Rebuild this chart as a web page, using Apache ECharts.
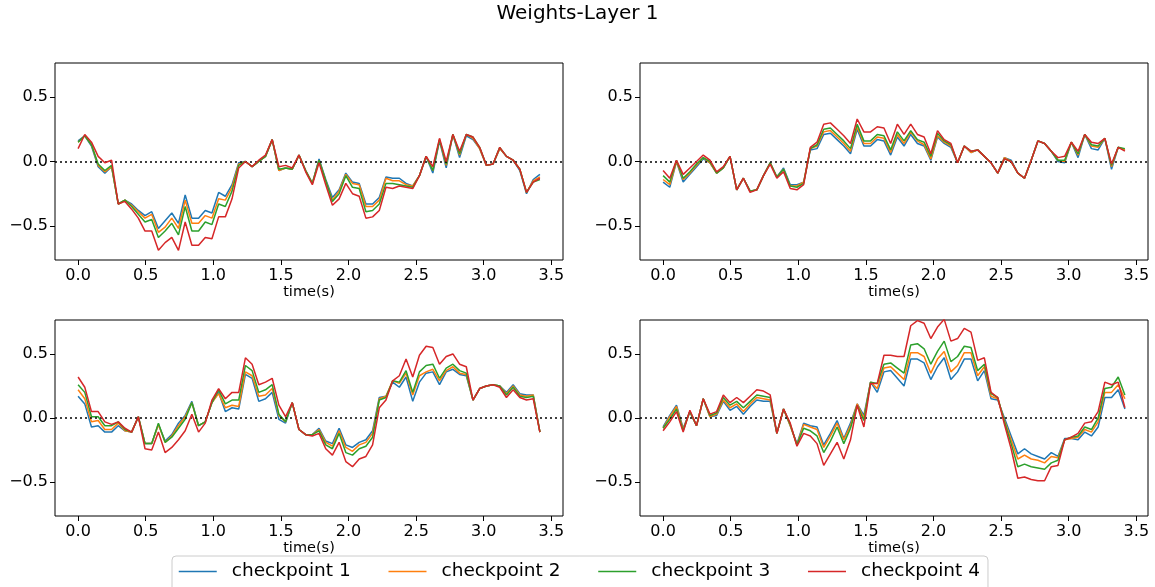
<!DOCTYPE html>
<html>
<head>
<meta charset="utf-8">
<title>Weights-Layer 1</title>
<script src="https://cdn.jsdelivr.net/npm/echarts@6/dist/echarts.min.js"></script>
<style>
  html, body { margin: 0; padding: 0; background: #ffffff; }
  #chart { width: 1155px; height: 587px; }
</style>
</head>
<body>
<div id="chart"></div>
<script>
// Sampling step of the time axis (seconds) and axis ticks
const STEP = 0.0495;
const X_TICKS = [0, 0.5, 1.0, 1.5, 2.0, 2.5, 3.0, 3.5];
const Y_TICKS = [-0.5, 0, 0.5];
const CHECKPOINTS = ['checkpoint 1', 'checkpoint 2', 'checkpoint 3', 'checkpoint 4'];
const COLORS = ['#1f77b4', '#ff7f0e', '#2ca02c', '#d62728'];

// Weight 1 (top left)
const w1_ck1 = [0.16,0.20,0.12,-0.04,-0.09,-0.04,-0.33,-0.30,-0.33,-0.38,-0.42,-0.39,-0.52,-0.46,-0.40,-0.48,-0.26,-0.44,-0.44,-0.38,-0.40,-0.24,-0.27,-0.18,-0.01,0.00,-0.04,0.00,0.04,0.17,-0.07,-0.05,-0.06,0.05,-0.07,-0.17,0.02,-0.14,-0.28,-0.22,-0.09,-0.16,-0.17,-0.33,-0.33,-0.28,-0.12,-0.13,-0.13,-0.17,-0.19,-0.11,0.04,-0.09,0.16,-0.05,0.21,0.03,0.20,0.17,0.10,-0.03,-0.02,0.10,0.04,0.01,-0.07,-0.25,-0.14,-0.10];
const w1_ck2 = [0.15,0.20,0.13,-0.03,-0.08,-0.04,-0.33,-0.30,-0.34,-0.39,-0.44,-0.41,-0.55,-0.51,-0.44,-0.52,-0.30,-0.48,-0.48,-0.42,-0.44,-0.29,-0.30,-0.20,-0.02,0.00,-0.04,0.00,0.04,0.17,-0.07,-0.05,-0.06,0.05,-0.07,-0.17,0.01,-0.15,-0.30,-0.23,-0.10,-0.17,-0.18,-0.35,-0.35,-0.30,-0.13,-0.15,-0.15,-0.18,-0.19,-0.11,0.04,-0.07,0.17,-0.03,0.21,0.05,0.21,0.18,0.10,-0.03,-0.02,0.10,0.04,0.01,-0.06,-0.24,-0.15,-0.12];
const w1_ck3 = [0.15,0.20,0.13,-0.02,-0.07,-0.03,-0.33,-0.30,-0.35,-0.41,-0.47,-0.45,-0.59,-0.54,-0.48,-0.57,-0.35,-0.54,-0.54,-0.47,-0.49,-0.33,-0.35,-0.23,-0.03,0.00,-0.04,0.00,0.04,0.17,-0.06,-0.05,-0.06,0.05,-0.07,-0.17,0.01,-0.15,-0.31,-0.25,-0.11,-0.20,-0.21,-0.39,-0.38,-0.33,-0.17,-0.17,-0.18,-0.19,-0.20,-0.11,0.04,-0.07,0.17,-0.02,0.21,0.06,0.21,0.19,0.11,-0.03,-0.02,0.11,0.04,0.01,-0.06,-0.24,-0.16,-0.14];
const w1_ck4 = [0.10,0.21,0.15,0.04,-0.01,0.01,-0.33,-0.31,-0.37,-0.44,-0.54,-0.54,-0.69,-0.63,-0.59,-0.69,-0.47,-0.65,-0.65,-0.59,-0.60,-0.43,-0.43,-0.29,-0.05,0.00,-0.04,0.01,0.05,0.17,-0.04,-0.03,-0.05,0.05,-0.08,-0.18,-0.01,-0.18,-0.34,-0.29,-0.17,-0.25,-0.27,-0.44,-0.43,-0.38,-0.20,-0.21,-0.19,-0.20,-0.21,-0.11,0.04,-0.04,0.18,0.00,0.21,0.08,0.21,0.19,0.11,-0.03,-0.02,0.11,0.04,0.01,-0.06,-0.24,-0.16,-0.13];

// Weight 2 (top right)
const w2_ck1 = [-0.16,-0.20,0.00,-0.16,-0.10,-0.04,0.02,-0.01,-0.09,-0.05,0.04,-0.22,-0.13,-0.23,-0.22,-0.11,-0.01,-0.12,-0.05,-0.18,-0.18,-0.16,0.09,0.10,0.21,0.22,0.17,0.12,0.06,0.25,0.12,0.12,0.17,0.16,0.05,0.19,0.12,0.21,0.14,0.12,0.01,0.19,0.14,0.11,-0.01,0.12,0.07,0.09,0.04,-0.01,-0.09,0.03,0.01,-0.09,-0.13,0.01,0.16,0.14,0.08,0.00,-0.01,0.15,0.03,0.21,0.10,0.09,0.18,-0.06,0.11,0.09];
const w2_ck2 = [-0.14,-0.18,0.00,-0.14,-0.09,-0.03,0.03,-0.01,-0.09,-0.05,0.04,-0.22,-0.13,-0.23,-0.22,-0.11,-0.01,-0.12,-0.06,-0.19,-0.19,-0.16,0.10,0.12,0.23,0.24,0.19,0.14,0.08,0.27,0.14,0.14,0.19,0.18,0.07,0.21,0.14,0.23,0.16,0.13,0.02,0.20,0.15,0.12,-0.01,0.12,0.07,0.09,0.04,-0.01,-0.09,0.03,0.00,-0.09,-0.13,0.01,0.16,0.14,0.08,0.01,0.00,0.15,0.05,0.21,0.12,0.11,0.18,-0.04,0.11,0.09];
const w2_ck3 = [-0.11,-0.16,0.01,-0.13,-0.08,-0.02,0.03,0.00,-0.09,-0.05,0.04,-0.22,-0.13,-0.23,-0.22,-0.11,-0.01,-0.12,-0.06,-0.19,-0.20,-0.17,0.10,0.13,0.25,0.26,0.21,0.16,0.10,0.29,0.16,0.16,0.21,0.20,0.09,0.23,0.16,0.24,0.17,0.15,0.04,0.22,0.16,0.13,-0.01,0.12,0.08,0.09,0.04,-0.01,-0.09,0.02,0.00,-0.09,-0.13,0.01,0.16,0.14,0.08,0.01,0.01,0.15,0.06,0.21,0.13,0.12,0.18,-0.03,0.11,0.10];
const w2_ck4 = [-0.07,-0.13,0.01,-0.10,-0.05,0.00,0.05,0.01,-0.08,-0.04,0.04,-0.22,-0.13,-0.24,-0.22,-0.11,-0.02,-0.13,-0.08,-0.21,-0.22,-0.18,0.11,0.15,0.29,0.30,0.25,0.20,0.14,0.33,0.23,0.23,0.27,0.26,0.14,0.29,0.21,0.29,0.21,0.19,0.06,0.24,0.17,0.14,-0.01,0.12,0.08,0.09,0.04,-0.01,-0.09,0.02,0.00,-0.09,-0.13,0.01,0.16,0.14,0.08,0.03,0.04,0.15,0.08,0.21,0.15,0.14,0.18,-0.02,0.11,0.08];

// Weight 3 (bottom left)
const w3_ck1 = [0.17,0.11,-0.07,-0.06,-0.11,-0.11,-0.06,-0.10,-0.11,0.01,-0.20,-0.20,-0.05,-0.18,-0.13,-0.04,0.02,0.13,-0.06,-0.03,0.12,0.20,0.05,0.08,0.07,0.34,0.31,0.13,0.15,0.20,-0.01,-0.04,0.12,-0.09,-0.13,-0.13,-0.08,-0.18,-0.20,-0.08,-0.21,-0.23,-0.19,-0.17,-0.10,0.16,0.17,0.28,0.24,0.32,0.13,0.28,0.35,0.36,0.26,0.36,0.38,0.34,0.33,0.14,0.23,0.25,0.26,0.25,0.20,0.26,0.19,0.18,0.18,-0.11];
const w3_ck2 = [0.22,0.15,-0.03,-0.02,-0.09,-0.09,-0.04,-0.10,-0.11,0.01,-0.20,-0.20,-0.05,-0.19,-0.14,-0.06,0.01,0.12,-0.06,-0.03,0.12,0.19,0.08,0.10,0.09,0.36,0.33,0.17,0.18,0.23,0.02,-0.03,0.12,-0.09,-0.13,-0.13,-0.09,-0.19,-0.22,-0.10,-0.23,-0.26,-0.21,-0.19,-0.12,0.15,0.17,0.29,0.27,0.35,0.18,0.33,0.36,0.38,0.29,0.37,0.40,0.35,0.34,0.14,0.23,0.25,0.26,0.25,0.19,0.25,0.18,0.17,0.18,-0.11];
const w3_ck3 = [0.26,0.20,0.01,0.01,-0.06,-0.06,-0.03,-0.09,-0.11,0.01,-0.20,-0.20,-0.04,-0.19,-0.15,-0.08,-0.01,0.12,-0.06,-0.03,0.12,0.22,0.11,0.14,0.14,0.41,0.37,0.20,0.22,0.26,0.03,-0.03,0.12,-0.09,-0.13,-0.13,-0.10,-0.21,-0.24,-0.12,-0.27,-0.29,-0.24,-0.22,-0.15,0.14,0.16,0.29,0.28,0.37,0.20,0.36,0.41,0.42,0.31,0.39,0.42,0.37,0.35,0.14,0.23,0.25,0.26,0.25,0.18,0.24,0.17,0.16,0.17,-0.11];
const w3_ck4 = [0.32,0.24,0.05,0.05,-0.03,-0.05,-0.03,-0.08,-0.11,0.01,-0.24,-0.25,-0.11,-0.27,-0.23,-0.17,-0.10,0.03,-0.11,-0.04,0.14,0.23,0.15,0.20,0.20,0.47,0.42,0.26,0.28,0.31,0.10,0.01,0.12,-0.09,-0.13,-0.14,-0.12,-0.24,-0.29,-0.19,-0.34,-0.38,-0.32,-0.30,-0.21,0.08,0.14,0.29,0.33,0.46,0.32,0.49,0.56,0.55,0.42,0.48,0.50,0.42,0.40,0.14,0.23,0.25,0.26,0.24,0.16,0.22,0.16,0.14,0.15,-0.11];

// Weight 4 (bottom right)
const w4_ck1 = [-0.07,0.02,0.10,-0.08,0.05,-0.06,0.15,0.01,0.02,0.13,0.06,0.09,0.03,0.09,0.14,0.13,0.13,-0.12,0.07,-0.06,-0.20,-0.04,-0.06,-0.07,-0.21,-0.12,-0.02,-0.16,-0.04,0.11,0.02,0.28,0.20,0.36,0.37,0.31,0.25,0.46,0.46,0.43,0.30,0.40,0.47,0.30,0.36,0.46,0.46,0.29,0.37,0.15,0.14,0.00,-0.14,-0.28,-0.24,-0.28,-0.30,-0.32,-0.27,-0.30,-0.16,-0.16,-0.17,-0.11,-0.14,-0.07,0.16,0.16,0.22,0.07];
const w4_ck2 = [-0.08,0.01,0.09,-0.09,0.05,-0.06,0.15,0.01,0.03,0.14,0.08,0.11,0.05,0.11,0.16,0.15,0.14,-0.12,0.07,-0.06,-0.21,-0.05,-0.07,-0.09,-0.23,-0.14,-0.04,-0.17,-0.06,0.11,0.00,0.28,0.23,0.39,0.40,0.35,0.30,0.51,0.51,0.48,0.35,0.46,0.52,0.36,0.41,0.51,0.51,0.33,0.40,0.17,0.15,-0.02,-0.17,-0.32,-0.29,-0.32,-0.33,-0.35,-0.30,-0.31,-0.17,-0.16,-0.15,-0.09,-0.11,-0.03,0.20,0.20,0.26,0.15];
const w4_ck3 = [-0.08,-0.01,0.07,-0.10,0.05,-0.06,0.15,0.02,0.04,0.16,0.10,0.13,0.08,0.13,0.18,0.17,0.16,-0.12,0.07,-0.05,-0.21,-0.08,-0.10,-0.14,-0.27,-0.18,-0.07,-0.20,-0.08,0.10,-0.02,0.28,0.27,0.42,0.43,0.39,0.35,0.57,0.58,0.54,0.42,0.52,0.60,0.44,0.48,0.56,0.55,0.37,0.42,0.19,0.16,-0.03,-0.20,-0.38,-0.36,-0.38,-0.39,-0.40,-0.35,-0.33,-0.17,-0.15,-0.14,-0.07,-0.09,0.00,0.23,0.24,0.32,0.18];
const w4_ck4 = [-0.10,-0.03,0.05,-0.11,0.06,-0.06,0.15,0.03,0.05,0.18,0.12,0.16,0.12,0.17,0.22,0.21,0.18,-0.12,0.07,-0.04,-0.22,-0.12,-0.14,-0.20,-0.37,-0.28,-0.19,-0.32,-0.17,0.10,-0.07,0.27,0.27,0.49,0.49,0.48,0.48,0.72,0.76,0.74,0.62,0.71,0.77,0.60,0.62,0.70,0.67,0.45,0.47,0.20,0.16,-0.05,-0.24,-0.47,-0.46,-0.48,-0.49,-0.49,-0.38,-0.37,-0.17,-0.15,-0.12,-0.04,-0.03,0.05,0.28,0.26,0.28,0.08];

const PANELS = [
  [w1_ck1, w1_ck2, w1_ck3, w1_ck4],
  [w2_ck1, w2_ck2, w2_ck3, w2_ck4],
  [w3_ck1, w3_ck2, w3_ck3, w3_ck4],
  [w4_ck1, w4_ck2, w4_ck3, w4_ck4]
];

// Axis limits: 5% padding around the time span, symmetric weight range
const T_MAX = (w1_ck1.length - 1) * STEP;
const X_MIN = -0.05 * T_MAX;
const X_MAX = 1.05 * T_MAX;
const Y_LIM = 0.765;

const FONT = 'DejaVu Sans';
const GRIDS = [
  { left: 55,  top: 63,  width: 508, height: 197 },
  { left: 640, top: 63,  width: 508, height: 197 },
  { left: 55,  top: 320, width: 508, height: 196 },
  { left: 640, top: 320, width: 508, height: 196 }
];

const fmtY = v => (v < 0 ? '\u2212' : '') + Math.abs(v).toFixed(1);

const option = {
  animation: false,
  backgroundColor: '#ffffff',
  title: {
    text: 'Weights-Layer 1',
    left: 'center',
    top: 4,
    padding: 0,
    textStyle: { fontFamily: FONT, fontSize: 20, fontWeight: 'normal', color: '#000' }
  },
  legend: {
    data: CHECKPOINTS,
    left: 172,
    top: 556,
    orient: 'horizontal',
    itemWidth: 38,
    itemHeight: 14,
    itemGap: 37,
    padding: [6, 8, 14, 6],
    backgroundColor: 'rgba(255,255,255,0.8)',
    borderColor: '#cccccc',
    borderWidth: 1,
    borderRadius: 4,
    // only the line of each entry is shown, no marker
    itemStyle: { opacity: 0 },
    lineStyle: { width: 1.5 },
    textStyle: { fontFamily: FONT, fontSize: 18.5, color: '#000', padding: [0, 0, 0, 10] }
  },
  grid: GRIDS.map(g => Object.assign({ show: true, borderColor: '#000', borderWidth: 1, backgroundColor: 'transparent' }, g)),
  xAxis: GRIDS.map((g, k) => ({
    gridIndex: k,
    type: 'value',
    position: 'bottom',
    min: X_MIN,
    max: X_MAX,
    axisLine: { show: false, onZero: false },
    splitLine: { show: false },
    axisTick: { show: true, inside: false, customValues: X_TICKS, length: 5, lineStyle: { color: '#000', width: 1 } },
    axisLabel: { customValues: X_TICKS, formatter: v => v.toFixed(1), fontFamily: FONT, fontSize: 16, color: '#000', margin: 8 },
    name: 'time(s)',
    nameLocation: 'middle',
    nameGap: 25,
    nameTextStyle: { fontFamily: FONT, fontSize: 14.5, color: '#000' }
  })),
  yAxis: GRIDS.map((g, k) => ({
    gridIndex: k,
    type: 'value',
    position: 'left',
    min: -Y_LIM,
    max: Y_LIM,
    axisLine: { show: false, onZero: false },
    splitLine: { show: false },
    axisTick: { show: true, inside: false, customValues: Y_TICKS, length: 5, lineStyle: { color: '#000', width: 1 } },
    axisLabel: { customValues: Y_TICKS, formatter: fmtY, fontFamily: FONT, fontSize: 16, color: '#000', margin: 7 }
  })),
  series: []
};

PANELS.forEach((lines, k) => {
  lines.forEach((vals, j) => {
    const s = {
      name: CHECKPOINTS[j],
      type: 'line',
      xAxisIndex: k,
      yAxisIndex: k,
      data: vals.map((v, i) => [i * STEP, v]),
      symbol: 'none',
      showSymbol: false,
      clip: true,
      lineStyle: { color: COLORS[j], width: 1.5 },
      itemStyle: { color: COLORS[j] },
      z: 2 + j
    };
    if (j === 0) {
      // dotted zero reference line across the panel
      s.markLine = {
        silent: true,
        symbol: ['none', 'none'],
        label: { show: false },
        lineStyle: { color: '#000', type: [2, 3], width: 1.5 },
        data: [{ yAxis: 0 }]
      };
    }
    option.series.push(s);
  });
});

const chart = echarts.init(document.getElementById('chart'), null, { renderer: 'canvas' });
chart.setOption(option);
</script>
</body>
</html>
